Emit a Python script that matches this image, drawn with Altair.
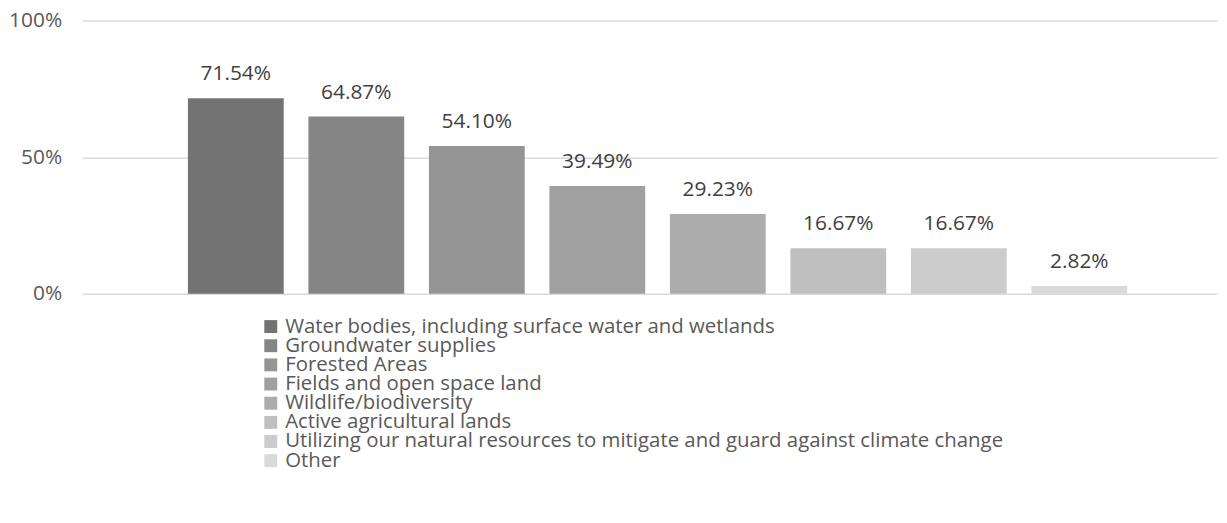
import altair as alt
import pandas as pd

categories = [
    "Water bodies, including surface water and wetlands",
    "Groundwater supplies",
    "Forested Areas",
    "Fields and open space land",
    "Wildlife/biodiversity",
    "Active agricultural lands",
    "Utilizing our natural resources to mitigate and guard against climate change",
    "Other",
]
values = [0.7154, 0.6487, 0.5410, 0.3949, 0.2923, 0.1667, 0.1667, 0.0282]
colors = ["#737373", "#858585", "#959595", "#a0a0a0", "#acacac", "#bfbfbf", "#cccccc", "#d9d9d9"]

df = pd.DataFrame({"cat": categories, "val": values})
df["label"] = [f"{v*100:.2f}%" for v in values]

FONT = "Open Sans"

x = alt.X("cat:N", sort=categories, axis=None,
          scale=alt.Scale(paddingInner=0.205, paddingOuter=0.81, align=0.54))
yscale = alt.Scale(domain=[0, 1])
color = alt.Color("cat:N", sort=categories,
                  scale=alt.Scale(domain=categories, range=colors), legend=None)

bars = alt.Chart(df).mark_bar().encode(
    x=x,
    y=alt.Y("val:Q", scale=yscale,
            axis=alt.Axis(values=[0, 0.5, 1], format=".0%", domain=False, ticks=False,
                          labelPadding=21, labelFont=FONT, labelFontSize=21,
                          labelColor="#595959", gridColor="#d9d9d9", gridWidth=1.5,
                          title=None)),
    color=color,
)

text = alt.Chart(df).mark_text(baseline="alphabetic", dy=-18, font=FONT, fontSize=21,
                               color="#404040").encode(
    x=x,
    y=alt.Y("val:Q", scale=yscale, axis=None),
    text="label:N",
)

ly = alt.Y("cat:N", sort=categories, axis=None,
           scale=alt.Scale(range=[308, 443], padding=0))

leg_sq = alt.Chart(df).mark_square(size=169, opacity=1).encode(
    x=alt.value(189.5),
    y=ly,
    color=color,
)

leg_txt = alt.Chart(df).mark_text(align="left", baseline="middle", font=FONT, fontSize=20.5,
                                  color="#595959").encode(
    x=alt.value(204),
    y=ly,
    text="cat:N",
)

chart = alt.layer(bars, text, leg_sq, leg_txt).resolve_scale(y="independent").properties(
    width=1142, height=275,
    autosize=alt.AutoSizeParams(type="none"),
    padding={"left": 75, "top": 11, "right": 2, "bottom": 220},
).configure_view(stroke=None)

chart.save("out.html", embed_options={"renderer": "svg", "actions": False})
